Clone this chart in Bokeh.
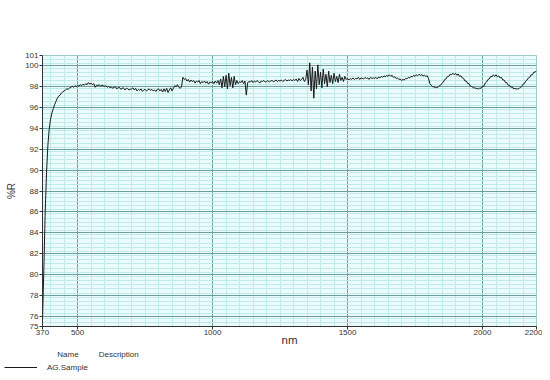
from bokeh.plotting import figure
from bokeh.models import Range1d, FixedTicker, Legend, LegendItem
from bokeh.layouts import column
from bokeh.embed import file_html
from bokeh.resources import INLINE

# ---- data ----
start_nm = 370
step_nm = 5
r370 = [75.6, 80.5, 86.0, 89.8, 92.4, 94.0]
r400 = [94.9, 95.5, 95.9, 96.3, 96.6, 96.9, 97.1, 97.2, 97.4, 97.5, 97.6, 97.7, 97.8, 97.75, 97.9, 97.95, 98.05, 97.95, 98.1, 98.0]
r500 = [98.15, 98.05, 98.2, 98.1, 98.25, 98.15, 98.3, 98.2, 98.4, 98.25, 98.35, 98.2, 98.3, 97.95, 98.15, 98.1, 98.2, 98.05, 98.15, 98.1]
r600 = [98.05, 98.1, 97.95, 98.05, 97.9, 98.0, 97.85, 97.95, 98.0, 97.8, 97.9, 97.95, 97.75, 97.85, 97.9, 97.7, 97.8, 97.85, 97.7, 97.75]
r700 = [97.8, 97.9, 97.7, 97.85, 97.6, 97.75, 97.65, 97.8, 97.55, 97.7, 97.75, 97.6, 97.7, 97.8, 97.65, 97.75, 97.6, 97.7, 97.55, 97.75]
r800 = [97.8, 97.6, 97.75, 97.5, 97.8, 97.55, 97.85, 97.45, 97.7, 97.9, 97.6, 97.85, 98.1, 98.0, 98.2, 97.95, 97.85, 98.0, 98.9, 98.7]
r900 = [98.8, 98.55, 98.7, 98.45, 98.65, 98.5, 98.6, 98.35, 98.55, 98.45, 98.6, 98.3, 98.5, 98.4, 98.55, 98.35, 98.5, 98.25, 98.45, 98.4]
r1000 = [98.5, 98.3, 98.55, 98.35, 98.6, 98.2, 98.75, 97.9, 99.0, 98.0, 99.1, 97.8, 99.3, 98.1, 98.9, 97.9, 99.0, 98.2, 98.6, 98.3]
r1100 = [98.5, 98.4, 98.6, 98.3, 98.55, 97.2, 98.4, 98.5, 98.45, 98.6, 98.4, 98.55, 98.45, 98.6, 98.5, 98.35, 98.55, 98.5, 98.6, 98.45]
r1200 = [98.5, 98.6, 98.45, 98.55, 98.6, 98.5, 98.55, 98.65, 98.5, 98.6, 98.55, 98.65, 98.5, 98.6, 98.7, 98.55, 98.65, 98.6, 98.7, 98.55]
r1300 = [98.7, 98.6, 98.75, 98.5, 98.8, 98.6, 98.7, 98.9, 98.5, 98.7, 99.6, 98.2, 100.3, 97.6, 99.9, 96.9, 99.5, 97.8, 100.1, 98.2]
r1400 = [99.4, 97.9, 99.7, 98.3, 99.2, 98.0, 99.5, 98.4, 99.1, 98.3, 99.3, 98.5, 99.0, 98.4, 99.2, 98.6, 98.9, 98.5, 99.0, 98.7]
r1500 = [98.8, 98.65, 98.8, 98.7, 98.85, 98.7, 98.8, 98.75, 98.9, 98.7, 98.85, 98.8, 98.75, 98.9, 98.8, 98.85, 98.7, 98.9, 98.8, 98.85]
r1600 = [98.8, 98.9, 98.75, 98.95, 98.85, 99.0, 98.9, 99.05, 98.95, 99.1, 99.0, 99.15, 99.0, 99.1, 98.9, 98.95, 98.8, 98.85, 98.7, 98.75]
r1700 = [98.6, 98.7, 98.65, 98.8, 98.75, 98.9, 98.85, 99.0, 98.95, 99.1, 99.0, 99.15, 99.05, 99.2, 99.1, 99.15, 99.05, 99.1, 99.0, 99.05]
r1800 = [98.8, 98.3, 98.15, 98.0, 98.0, 97.92, 97.95, 97.95, 98.1, 98.15, 98.35, 98.45, 98.7, 98.75, 99.0, 99.0, 99.2, 99.15, 99.3, 99.15]
r1900 = [99.3, 99.1, 99.22, 99.0, 99.05, 98.85, 98.8, 98.55, 98.55, 98.3, 98.3, 98.05, 98.05, 97.9, 97.9, 97.85, 97.85, 97.78, 97.88, 97.85]
r2000 = [98.05, 98.05, 98.35, 98.45, 98.7, 98.75, 99.0, 98.95, 99.15, 99.0, 99.15, 98.95, 99.05, 98.85, 98.9, 98.65, 98.65, 98.4, 98.4, 98.15]
r2100 = [98.15, 97.95, 98.0, 97.8, 97.85, 97.78, 97.8, 97.82, 97.95, 98.0, 98.25, 98.3, 98.55, 98.65, 98.85, 98.9, 99.15, 99.15, 99.4, 99.4]
r2200 = [99.55]

reflectance = (r370 + r400 + r500 + r600 + r700 + r800 + r900 + r1000 + r1100 + r1200
               + r1300 + r1400 + r1500 + r1600 + r1700 + r1800 + r1900 + r2000 + r2100 + r2200)
wavelength = [start_nm + i * step_nm for i in range(len(reflectance))]

x_tick_values = [370, 500, 1000, 1500, 2000, 2200]
y_tick_values = [75, 76, 78, 80, 82, 84, 86, 88, 90, 92, 94, 96, 98, 100, 101]
x_major_grid = [500, 1000, 1500, 2000]
y_major_grid = [76, 78, 80, 82, 84, 86, 88, 90, 92, 94, 96, 98, 100, 101]
series_name = "AG.Sample"
NB = "\u00a0"
legend_header = NB * 24 + "Name" + NB * 9 + "Description"

# ---- styling ----
FONT = "Liberation Sans"
BG = "#ebfafa"
MINOR = "#bfeaea"
MAJOR = "#6f9c9c"
TXT = "#333333"

p = figure(width=542, height=349, output_backend="svg", toolbar_location=None,
           x_range=Range1d(370, 2200), y_range=Range1d(75, 101),
           min_border_left=42, min_border_right=6, min_border_top=55, min_border_bottom=23,
           x_axis_label="nm", y_axis_label="%R")
p.background_fill_color = BG
p.border_fill_color = "white"
p.outline_line_color = "#9ccaca"

x_minor = [v for v in range(400, 2200, 50) if v not in x_major_grid]
y_minor = []
k = 1
while 75.0 + 0.4 * k < 101 - 1e-6:
    v = round(75.0 + 0.4 * k, 2)
    if v not in y_major_grid:
        y_minor.append(v)
    k += 1

p.xgrid.ticker = FixedTicker(ticks=x_major_grid, minor_ticks=x_minor)
p.ygrid.ticker = FixedTicker(ticks=y_major_grid, minor_ticks=y_minor)
for g in (p.xgrid, p.ygrid):
    g.grid_line_color = MAJOR
    g.grid_line_width = 1
    g.minor_grid_line_color = MINOR
    g.minor_grid_line_width = 1

p.xaxis.ticker = FixedTicker(ticks=x_tick_values)
p.yaxis.ticker = FixedTicker(ticks=y_tick_values)
for ax in (p.xaxis, p.yaxis):
    ax.axis_line_color = TXT
    ax.major_tick_line_color = TXT
    ax.minor_tick_line_color = None
    ax.major_tick_in = 0
    ax.major_tick_out = 3
    ax.major_label_text_font = FONT
    ax.major_label_text_font_size = "8px"
    ax.major_label_text_color = TXT
    ax.axis_label_text_font = FONT
    ax.axis_label_text_font_style = "normal"
    ax.axis_label_text_color = TXT
p.xaxis.major_label_standoff = 0
p.yaxis.major_label_standoff = 1
p.xaxis.axis_label_text_font_size = "11.5px"
p.xaxis.axis_label_standoff = -4
p.yaxis.axis_label_text_font_size = "10px"
p.yaxis.axis_label_standoff = 5

p.line(wavelength, reflectance, line_color="#1a1a1a", line_width=1)

# ---- legend strip below the chart ----
leg = figure(width=542, height=26, output_backend="svg", toolbar_location=None,
             x_range=Range1d(0, 1), y_range=Range1d(0, 1),
             x_axis_location=None, y_axis_location=None, min_border=0)
leg.frame_align = False
leg.grid.visible = False
leg.outline_line_color = None
leg.background_fill_color = "white"
leg.border_fill_color = "white"
lr = leg.line(wavelength, reflectance, line_color="#1a1a1a", line_width=1)

legend = Legend(items=[LegendItem(label=series_name, renderers=[lr])],
                location=(4, 3), title=legend_header,
                title_text_font=FONT, title_text_font_size="8px",
                title_text_font_style="normal", title_text_color=TXT,
                title_standoff=3,
                label_text_font=FONT, label_text_font_size="8px",
                label_text_color=TXT,
                glyph_width=33, glyph_height=10, label_height=10, label_standoff=10,
                padding=0, spacing=0, margin=0,
                background_fill_alpha=0, border_line_color=None)
leg.add_layout(legend, "center")

layout = column(p, leg, spacing=0)
open("out.html", "w").write(file_html(layout, INLINE))
